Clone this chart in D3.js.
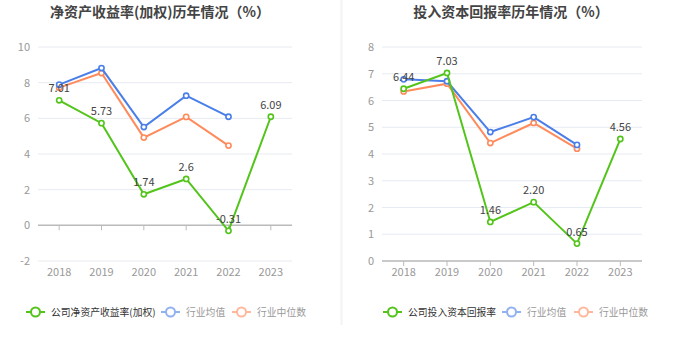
<!DOCTYPE html>
<html><head><meta charset="utf-8">
<script src="https://cdn.jsdelivr.net/npm/d3@7"></script>
<style>body{margin:0;background:#fff;font-family:"Noto Sans CJK SC","Noto Sans",sans-serif;}svg{display:block}</style>
</head><body>
<svg id="c" width="680" height="349"></svg>
<script>
const years = ["2018","2019","2020","2021","2022","2023"];
const roeCompany = [7.01, 5.73, 1.74, 2.6, -0.31, 6.09];
const roeCompanyLabels = ["7.01","5.73","1.74","2.6","-0.31","6.09"];
const roeAvg = [7.89, 8.82, 5.51, 7.27, 6.09];
const roeMedian = [7.72, 8.54, 4.92, 6.08, 4.47];
const roeTicks = [-2, 0, 2, 4, 6, 8, 10];
const roicCompany = [6.44, 7.03, 1.46, 2.20, 0.65, 4.56];
const roicCompanyLabels = ["6.44","7.03","1.46","2.20","0.65","4.56"];
const roicAvg = [6.79, 6.72, 4.82, 5.38, 4.34];
const roicMedian = [6.34, 6.63, 4.41, 5.16, 4.20];
const roicTicks = [0, 1, 2, 3, 4, 5, 6, 7, 8];

const GREEN = "#52c41a", BLUE = "#4a7ee8", ORANGE = "#ff8a5c";
const svg = d3.select("#c");

svg.append("rect").attr("x",340.5).attr("y",0).attr("width",2).attr("height",325).attr("fill","#f3f3f3");

function chart(o){
  const g = svg.append("g");
  g.append("text").attr("x",o.titleX).attr("y",17).attr("text-anchor","middle")
    .attr("font-size",14).attr("font-weight","bold").attr("fill","#444").text(o.title);
  const x = d3.scaleBand().domain(years).range([o.x0,o.x1]);
  const y = d3.scaleLinear().domain(o.domain).range([o.yBottom,o.yTop]);
  g.selectAll(".grid").data(o.ticks).enter().append("line")
    .attr("x1",o.x0).attr("x2",o.x1).attr("y1",d=>y(d)).attr("y2",d=>y(d))
    .attr("stroke","#e6eaf2").attr("stroke-width",1);
  g.selectAll(".yl").data(o.ticks).enter().append("text")
    .attr("x",o.x0-8).attr("y",d=>y(d)+4).attr("text-anchor","end")
    .attr("font-size",11).attr("fill","#999").text(d=>d);
  g.append("line").attr("x1",o.x0).attr("x2",o.x1).attr("y1",y(0)).attr("y2",y(0))
    .attr("stroke","#bbb").attr("stroke-width",1.5);
  g.selectAll(".tk").data(years).enter().append("line")
    .attr("x1",d=>x(d)+x.bandwidth()/2).attr("x2",d=>x(d)+x.bandwidth()/2)
    .attr("y1",y(0)).attr("y2",y(0)+5).attr("stroke","#bbb");
  g.selectAll(".xl").data(years).enter().append("text")
    .attr("x",d=>x(d)+x.bandwidth()/2).attr("y",o.yBottom+15).attr("text-anchor","middle")
    .attr("font-size",11).attr("fill","#999").text(d=>d);
  const cx = i => x(years[i]) + x.bandwidth()/2;
  function series(vals,color){
    const line = d3.line().x((d,i)=>cx(i)).y(d=>y(d));
    g.append("path").attr("d",line(vals)).attr("fill","none").attr("stroke",color).attr("stroke-width",2);
    g.selectAll(null).data(vals).enter().append("circle")
      .attr("cx",(d,i)=>cx(i)).attr("cy",d=>y(d)).attr("r",2.6)
      .attr("fill","#fff").attr("stroke",color).attr("stroke-width",1.6);
  }
  series(o.median, ORANGE);
  series(o.avg, BLUE);
  series(o.company, GREEN);
  g.selectAll(null).data(o.company).enter().append("text")
    .attr("x",(d,i)=>cx(i)).attr("y",d=>y(d)-8).attr("text-anchor","middle")
    .attr("font-size",11).attr("fill","#444").text((d,i)=>o.labels[i]);
  const items = [[o.legend0,GREEN,"#333",1],["行业均值",BLUE,"#999",0.6],["行业中位数",ORANGE,"#999",0.6]];
  items.forEach((it,i)=>{
    const lx = o.legendX[i], ly = 312;
    const lg = g.append("g").attr("opacity",it[3]);
    lg.append("line").attr("x1",lx).attr("x2",lx+19).attr("y1",ly).attr("y2",ly).attr("stroke",it[1]).attr("stroke-width",2);
    lg.append("circle").attr("cx",lx+9.5).attr("cy",ly).attr("r",4.5).attr("fill","#fff").attr("stroke",it[1]).attr("stroke-width",2);
    g.append("text").attr("x",lx+25).attr("y",ly+4).attr("font-size",9.8).attr("fill",it[2]).text(it[0]);
  });
}

chart({title:"净资产收益率(加权)历年情况（%）", titleX:160, x0:38, x1:292, yTop:47, yBottom:261,
  domain:[-2,10], ticks:roeTicks, company:roeCompany, labels:roeCompanyLabels, avg:roeAvg, median:roeMedian,
  legend0:"公司净资产收益率(加权)", legendX:[26,161,232]});
chart({title:"投入资本回报率历年情况（%）", titleX:511, x0:382, x1:642, yTop:47, yBottom:261,
  domain:[0,8], ticks:roicTicks, company:roicCompany, labels:roicCompanyLabels, avg:roicAvg, median:roicMedian,
  legend0:"公司投入资本回报率", legendX:[383,502,574]});
</script>
</body></html>
